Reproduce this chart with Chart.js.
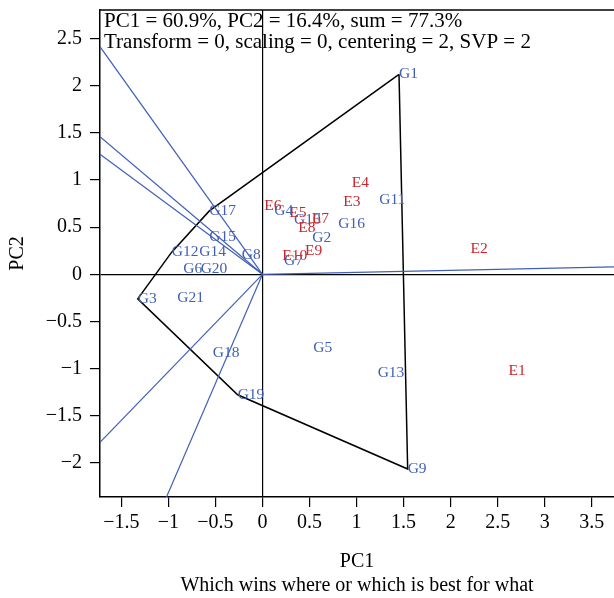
<!DOCTYPE html>
<html>
<head>
    <title>Which wins where</title>
    <script src="https://cdn.jsdelivr.net/npm/chart.js@4.4.0/dist/chart.umd.min.js"></script>
    <style>
        body { margin: 0; background: #fff; }
    </style>
</head>
<body>
    <canvas id="biplot" width="614" height="598"></canvas>

    <script>
        // genotype scores (label sits to the right of the point)
        const genoNames = ['G1','G2','G3','G4','G5','G6','G7','G8','G9','G10','G11',
                           'G12','G13','G14','G15','G16','G17','G18','G19','G20','G21'];
        const genoX = [1.451, 0.53, -1.326, 0.125, 0.54, -0.842, 0.228, -0.221, 1.543, 0.335, 1.241,
                       -0.965, 1.224, -0.672, -0.565, 0.806, -0.565, -0.529, -0.264, -0.657, -0.905];
        const genoY = [2.123, 0.384, -0.26, 0.677, -0.776, 0.055, 0.143, 0.207, -2.066, 0.578, 0.79,
                       0.235, -1.041, 0.235, 0.394, 0.535, 0.673, -0.836, -1.278, 0.055, -0.252];

        // environment scores
        const envNames = ['E1','E2','E3','E4','E5','E6','E7','E8','E9','E10'];
        const envX = [2.616, 2.212, 0.859, 0.948, 0.285, 0.019, 0.523, 0.38, 0.452, 0.21];
        const envY = [-1.02, 0.267, 0.772, 0.967, 0.649, 0.726, 0.589, 0.49, 0.252, 0.196];

        // polygon vertices (genotypes) and rays from the origin to the plot edge
        const hullNames = ['G1','G9','G19','G3','G12','G17','G1'];
        const rayEndX = [-1.727, -1.727, -1.727, -1.727, -1.02, 3.736];
        const rayEndY = [2.416, 1.461, 1.275, -1.784, -2.363, 0.08];

        const headerLines = ['PC1 = 60.9%, PC2 = 16.4%, sum = 77.3%',
                             'Transform = 0, scaling = 0, centering = 2, SVP = 2'];
        const xTitle = ['PC1', 'Which wins where or which is best for what'];
        const yTitle = 'PC2';

        const SERIF = "'Liberation Serif', 'DejaVu Serif', serif";
        const BLUE = 'rgb(64, 96, 182)';
        const RED = 'rgb(200, 40, 45)';

        const toPts = (xs, ys) => xs.map((x, i) => ({x: x, y: ys[i]}));
        const hullPts = hullNames.map(n => {
            const i = genoNames.indexOf(n);
            return {x: genoX[i], y: genoY[i]};
        });

        const datasets = [];
        rayEndX.forEach((x, i) => {
            datasets.push({
                data: [{x: 0, y: 0}, {x: x, y: rayEndY[i]}],
                showLine: true, borderColor: BLUE, borderWidth: 1.2, pointRadius: 0
            });
        });
        datasets.push({
            data: hullPts, showLine: true, borderColor: '#000', borderWidth: 1.5, pointRadius: 0
        });
        datasets.push({data: toPts(genoX, genoY), names: genoNames, labelColor: BLUE, pointRadius: 0});
        datasets.push({data: toPts(envX, envY), names: envNames, labelColor: RED, pointRadius: 0});

        const pointLabels = {
            id: 'pointLabels',
            afterDatasetsDraw(chart) {
                const ctx = chart.ctx;
                chart.data.datasets.forEach((ds, i) => {
                    if (!ds.names) return;
                    const meta = chart.getDatasetMeta(i);
                    ctx.save();
                    ctx.font = '15.5px ' + SERIF;
                    ctx.fillStyle = ds.labelColor;
                    ctx.textAlign = 'left';
                    ctx.textBaseline = 'middle';
                    meta.data.forEach((pt, j) => ctx.fillText(ds.names[j], pt.x, pt.y));
                    ctx.restore();
                });
            }
        };

        const frame = {
            id: 'frame',
            afterDraw(chart) {
                const ctx = chart.ctx;
                const a = chart.chartArea;
                ctx.save();
                ctx.strokeStyle = '#000';
                ctx.lineWidth = 1.5;
                ctx.beginPath();
                ctx.moveTo(a.left, a.top);
                ctx.lineTo(a.right, a.top);
                ctx.stroke();
                ctx.font = '21px ' + SERIF;
                ctx.fillStyle = '#000';
                ctx.textBaseline = 'middle';
                headerLines.forEach((t, i) => ctx.fillText(t, a.left + 4, a.top + 11 + i * 21));
                ctx.restore();
            }
        };

        const fmt = v => v < 0 ? '\u2212' + Math.abs(v) : String(v);
        const zeroLine = c => c.tick && c.tick.value === 0 ? '#000' : 'rgba(0,0,0,0)';

        new Chart(document.getElementById('biplot').getContext('2d'), {
            type: 'scatter',
            data: {datasets: datasets},
            options: {
                responsive: false,
                animation: false,
                events: [],
                layout: {padding: {top: 10, left: 0, right: 0, bottom: 0}},
                plugins: {legend: {display: false}, tooltip: {enabled: false}},
                scales: {
                    x: {
                        min: -1.727, max: 3.736,
                        afterFit: s => { s.height = 101; },
                        border: {display: true, color: '#000', width: 1.5},
                        grid: {color: zeroLine, lineWidth: 1.2, tickColor: '#000', tickLength: 10},
                        ticks: {stepSize: 0.5, includeBounds: false, autoSkip: false, maxRotation: 0,
                                color: '#000', font: {family: SERIF, size: 20}, padding: 4, callback: fmt},
                        title: {display: true, text: xTitle, color: '#000',
                                font: {family: SERIF, size: 20, lineHeight: 1.2}, padding: {top: 0, bottom: 0}}
                    },
                    y: {
                        min: -2.363, max: 2.805,
                        afterFit: s => { s.width = 100; s.paddingTop = 0; s.paddingBottom = 0; },
                        border: {display: true, color: '#000', width: 1.5},
                        grid: {color: zeroLine, lineWidth: 1.2, tickColor: '#000', tickLength: 10},
                        ticks: {stepSize: 0.5, includeBounds: false, autoSkip: false,
                                color: '#000', font: {family: SERIF, size: 20}, padding: 8, callback: fmt},
                        title: {display: true, text: yTitle, color: '#000',
                                font: {family: SERIF, size: 20}, padding: {top: 6, bottom: 0}}
                    }
                }
            },
            plugins: [pointLabels, frame]
        });
    </script>
</body>
</html>
